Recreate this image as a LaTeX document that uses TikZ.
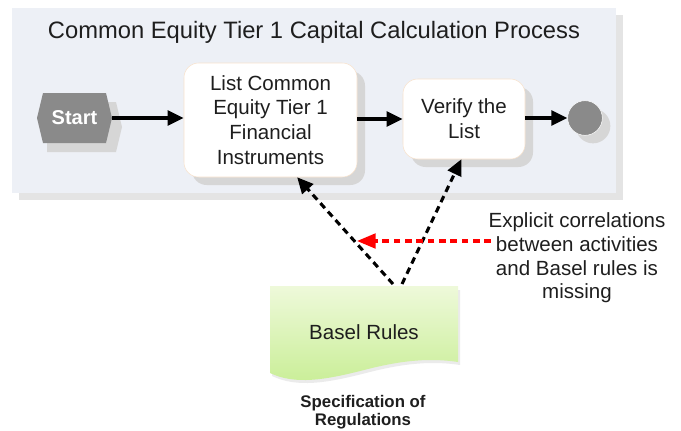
\documentclass[tikz,border=0pt]{standalone}
\usepackage{fontspec}
\setmainfont{Liberation Sans}
\usetikzlibrary{arrows.meta,shadows}

\definecolor{lanefill}{HTML}{EDF0F6}
\definecolor{laneshade}{HTML}{E4E4E4}
\definecolor{boxedge}{HTML}{F8E2CC}
\definecolor{marker}{HTML}{8A8A8A}
\definecolor{doctop}{HTML}{EEF9DA}
\definecolor{docbottom}{HTML}{C9EE96}
\definecolor{ink}{HTML}{1E1E1E}

\tikzset{
	task/.style={draw=boxedge, fill=white, rounded corners=11pt, align=center, text=ink,
		font=\fontsize{15.4}{18.6}\selectfont,
		drop shadow={shadow xshift=6pt, shadow yshift=-6pt, fill=black!16, opacity=1}},
	flow/.style={line width=2.5pt, -{Triangle[length=12pt,width=11pt]}},
	link/.style={line width=2.3pt, dash pattern=on 5pt off 3.5pt, -{Triangle[length=12pt,width=11pt]}},
	miss/.style={red, line width=2.3pt, dash pattern=on 5pt off 3.5pt, -{Triangle[length=14pt,width=11pt]}},
}

\begin{document}
\begin{tikzpicture}[x=0.75pt,y=-0.75pt]
	\useasboundingbox (0,0) rectangle (681,430);

	\fill[laneshade] (19,15) rectangle (623,200);
	\fill[lanefill] (12,8) rectangle (616,193);
	\node[anchor=base,text=ink,font=\fontsize{17.8}{21}\selectfont] (title) at (314,38) {Common Equity Tier 1 Capital Calculation Process};

	\fill[black!16] (47,102) -- (53,102) -- (116,102) -- (122,127) -- (116,152) -- (47,152) -- cycle;
	\fill[marker] (37,118) -- (43,93) -- (106,93) -- (112,118) -- (106,143) -- (43,143) -- cycle;
	\node[anchor=center,minimum width=56pt,minimum height=37pt,text=white,font=\bfseries\fontsize{15}{18}\selectfont] (start) at (74.5,118) {Start};

	\node[task,minimum width=129.75pt,minimum height=85.5pt] (list) at (270.5,120) {List Common\\Equity Tier 1\\Financial\\Instruments};
	\node[task,minimum width=91.5pt,minimum height=60pt] (verify) at (464,119) {Verify the\\List};
	\node[circle,fill=marker,draw=white,thin,minimum size=26pt,drop shadow={shadow xshift=6pt, shadow yshift=-6pt, fill=black!16, opacity=1}] (finish) at (585,118) {};

	\draw[flow] (start.east) -- (start.east -| list.west);
	\draw[flow] (list.east |- verify) -- (verify.west);
	\draw[flow] (verify.east |- finish) -- (finish.west);

	\fill[black!8] (272,290) -- (460,290) -- (460,365) .. controls (427,360) and (397,365) .. (366,373) .. controls (327,383) and (297,388) .. (272,376) -- cycle;
	\shade[top color=doctop,bottom color=docbottom] (270,286) -- (458,286) -- (458,362) .. controls (425,357) and (395,362) .. (364,370) .. controls (325,380) and (295,385) .. (270,373) -- cycle;
	\node[anchor=center,text=ink,font=\fontsize{15.4}{18.6}\selectfont] (basel) at (364,332) {Basel Rules};
	\node[anchor=center,align=center,text=ink,font=\bfseries\fontsize{12.6}{13.5}\selectfont] (spec) at (363,412) {Specification of\\Regulations};
	\coordinate (docl) at (393,284);
	\coordinate (docr) at (402,284);

	\draw[link] (docl) -- ([xshift=20pt]list.south);
	\draw[link] (docr) -- ([xshift=-2pt]verify.south);

	\node[anchor=center,align=center,text=ink,font=\fontsize{15.4}{17.8}\selectfont] (note) at (577,258) {Explicit correlations\\between activities\\and Basel rules is\\missing};
	\coordinate (gap) at (357,241);
	\draw[miss] ([shift={(7,-17)}]note.west) -- (gap);
\end{tikzpicture}
\end{document}
